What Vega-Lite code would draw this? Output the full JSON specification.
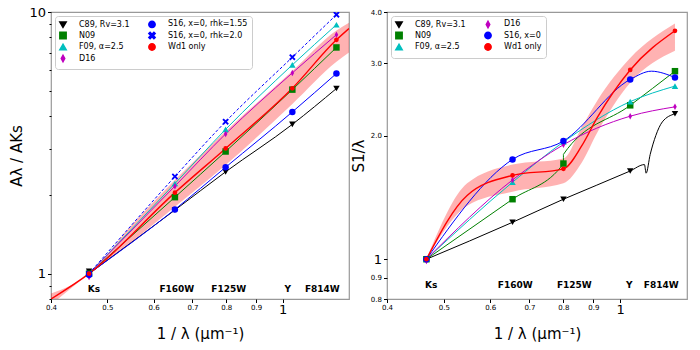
{
  "$schema": "https://vega.github.io/schema/vega-lite/v6.json",
  "padding": {"left": 9, "top": 5, "right": 5, "bottom": 5},
  "spacing": 0,
  "datasets": {
    "leftBand": [
      {"x": 0.4, "y": 0.76, "y2": 0.84},
      {"x": 0.465, "y": 1.0, "y2": 1.0},
      {"x": 0.55, "y": 1.32, "y2": 1.53},
      {"x": 0.653, "y": 1.80, "y2": 2.28},
      {"x": 0.798, "y": 2.6, "y2": 3.5},
      {"x": 1.039, "y": 4.45, "y2": 5.95},
      {"x": 1.237, "y": 6.45, "y2": 8.5},
      {"x": 1.3, "y": 7.0, "y2": 9.1}
    ],
    "leftPts": [
      {"model": "C89, Rv=3.1", "x": 0.465, "y": 1.02},
      {"model": "C89, Rv=3.1", "x": 0.653, "y": 1.75},
      {"model": "C89, Rv=3.1", "x": 0.798, "y": 2.45},
      {"model": "C89, Rv=3.1", "x": 1.039, "y": 3.72},
      {"model": "C89, Rv=3.1", "x": 1.237, "y": 5.10},
      {"model": "N09", "x": 0.465, "y": 1.0},
      {"model": "N09", "x": 0.653, "y": 1.96},
      {"model": "N09", "x": 0.798, "y": 2.93},
      {"model": "N09", "x": 1.039, "y": 5.05},
      {"model": "N09", "x": 1.237, "y": 7.32},
      {"model": "F09, α=2.5", "x": 0.465, "y": 1.0},
      {"model": "F09, α=2.5", "x": 0.653, "y": 2.21},
      {"model": "F09, α=2.5", "x": 0.798, "y": 3.56},
      {"model": "F09, α=2.5", "x": 1.039, "y": 6.28},
      {"model": "F09, α=2.5", "x": 1.237, "y": 8.94},
      {"model": "D16", "x": 0.465, "y": 0.97},
      {"model": "D16", "x": 0.653, "y": 2.16},
      {"model": "D16", "x": 0.798, "y": 3.42},
      {"model": "D16", "x": 1.039, "y": 5.85},
      {"model": "D16", "x": 1.237, "y": 8.19},
      {"model": "S16, x=0, rhk=1.55", "x": 0.465, "y": 0.99},
      {"model": "S16, x=0, rhk=1.55", "x": 0.653, "y": 1.76},
      {"model": "S16, x=0, rhk=1.55", "x": 0.798, "y": 2.55},
      {"model": "S16, x=0, rhk=1.55", "x": 1.039, "y": 4.15},
      {"model": "S16, x=0, rhk=1.55", "x": 1.237, "y": 5.82},
      {"model": "S16, x=0, rhk=2.0", "x": 0.465, "y": 1.0},
      {"model": "S16, x=0, rhk=2.0", "x": 0.653, "y": 2.35},
      {"model": "S16, x=0, rhk=2.0", "x": 0.798, "y": 3.81},
      {"model": "S16, x=0, rhk=2.0", "x": 1.039, "y": 6.72},
      {"model": "S16, x=0, rhk=2.0", "x": 1.237, "y": 9.77},
      {"model": "Wd1 only", "x": 0.465, "y": 1.0},
      {"model": "Wd1 only", "x": 0.653, "y": 2.04},
      {"model": "Wd1 only", "x": 0.798, "y": 3.01},
      {"model": "Wd1 only", "x": 1.039, "y": 5.11},
      {"model": "Wd1 only", "x": 1.237, "y": 7.83}
    ],
    "leftLine": [
      {"model": "C89, Rv=3.1", "o": 1, "x": 0.465, "y": 1.0},
      {"model": "C89, Rv=3.1", "o": 2, "x": 0.653, "y": 1.75},
      {"model": "C89, Rv=3.1", "o": 3, "x": 0.798, "y": 2.45},
      {"model": "C89, Rv=3.1", "o": 4, "x": 1.039, "y": 3.72},
      {"model": "C89, Rv=3.1", "o": 5, "x": 1.237, "y": 5.10},
      {"model": "N09", "o": 1, "x": 0.465, "y": 1.0},
      {"model": "N09", "o": 2, "x": 0.653, "y": 1.96},
      {"model": "N09", "o": 3, "x": 0.798, "y": 2.93},
      {"model": "N09", "o": 4, "x": 1.039, "y": 5.05},
      {"model": "N09", "o": 5, "x": 1.237, "y": 7.32},
      {"model": "F09, α=2.5", "o": 1, "x": 0.465, "y": 1.0},
      {"model": "F09, α=2.5", "o": 2, "x": 0.653, "y": 2.21},
      {"model": "F09, α=2.5", "o": 3, "x": 0.798, "y": 3.56},
      {"model": "F09, α=2.5", "o": 4, "x": 1.039, "y": 6.28},
      {"model": "F09, α=2.5", "o": 5, "x": 1.237, "y": 8.94},
      {"model": "D16", "o": 1, "x": 0.465, "y": 1.0},
      {"model": "D16", "o": 2, "x": 0.653, "y": 2.16},
      {"model": "D16", "o": 3, "x": 0.798, "y": 3.42},
      {"model": "D16", "o": 4, "x": 1.039, "y": 5.85},
      {"model": "D16", "o": 5, "x": 1.237, "y": 8.19},
      {"model": "S16, x=0, rhk=1.55", "o": 1, "x": 0.465, "y": 1.0},
      {"model": "S16, x=0, rhk=1.55", "o": 2, "x": 0.653, "y": 1.76},
      {"model": "S16, x=0, rhk=1.55", "o": 3, "x": 0.798, "y": 2.55},
      {"model": "S16, x=0, rhk=1.55", "o": 4, "x": 1.039, "y": 4.15},
      {"model": "S16, x=0, rhk=1.55", "o": 5, "x": 1.237, "y": 5.82},
      {"model": "S16, x=0, rhk=2.0", "o": 1, "x": 0.465, "y": 1.0},
      {"model": "S16, x=0, rhk=2.0", "o": 2, "x": 0.653, "y": 2.35},
      {"model": "S16, x=0, rhk=2.0", "o": 3, "x": 0.798, "y": 3.81},
      {"model": "S16, x=0, rhk=2.0", "o": 4, "x": 1.039, "y": 6.72},
      {"model": "S16, x=0, rhk=2.0", "o": 5, "x": 1.237, "y": 9.77},
      {"model": "Wd1 only", "o": 0, "x": 0.4, "y": 0.80},
      {"model": "Wd1 only", "o": 1, "x": 0.465, "y": 1.0},
      {"model": "Wd1 only", "o": 2, "x": 0.653, "y": 2.04},
      {"model": "Wd1 only", "o": 3, "x": 0.798, "y": 3.01},
      {"model": "Wd1 only", "o": 4, "x": 1.039, "y": 5.11},
      {"model": "Wd1 only", "o": 5, "x": 1.237, "y": 7.83},
      {"model": "Wd1 only", "o": 6, "x": 1.3, "y": 8.65}
    ],
    "leftLabels": [
      {"label": "Ks", "x": 0.474, "y": 0.87},
      {"label": "F160W", "x": 0.658, "y": 0.87},
      {"label": "F125W", "x": 0.808, "y": 0.87},
      {"label": "Y", "x": 1.02, "y": 0.87},
      {"label": "F814W", "x": 1.17, "y": 0.87}
    ],
    "rightBand": [
      {"x": 0.467, "y": 1.0, "y2": 1.0},
      {"x": 0.548, "y": 1.35, "y2": 1.53},
      {"x": 0.655, "y": 1.46, "y2": 1.70},
      {"x": 0.80, "y": 1.53, "y2": 1.76},
      {"x": 0.86, "y": 1.72, "y2": 2.10},
      {"x": 0.913, "y": 2.03, "y2": 2.43},
      {"x": 1.04, "y": 2.69, "y2": 3.09},
      {"x": 1.24, "y": 3.22, "y2": 3.75}
    ],
    "rightPts": [
      {"model": "C89, Rv=3.1", "x": 0.467, "y": 1.0},
      {"model": "C89, Rv=3.1", "x": 0.655, "y": 1.23},
      {"model": "C89, Rv=3.1", "x": 0.80, "y": 1.40},
      {"model": "C89, Rv=3.1", "x": 1.04, "y": 1.64},
      {"model": "C89, Rv=3.1", "x": 1.24, "y": 2.26},
      {"model": "N09", "x": 0.467, "y": 1.0},
      {"model": "N09", "x": 0.655, "y": 1.40},
      {"model": "N09", "x": 0.80, "y": 1.71},
      {"model": "N09", "x": 1.04, "y": 2.37},
      {"model": "N09", "x": 1.24, "y": 2.87},
      {"model": "F09, α=2.5", "x": 0.467, "y": 1.0},
      {"model": "F09, α=2.5", "x": 0.655, "y": 1.54},
      {"model": "F09, α=2.5", "x": 0.80, "y": 1.93},
      {"model": "F09, α=2.5", "x": 1.04, "y": 2.42},
      {"model": "F09, α=2.5", "x": 1.24, "y": 2.64},
      {"model": "D16", "x": 0.467, "y": 0.99},
      {"model": "D16", "x": 0.655, "y": 1.56},
      {"model": "D16", "x": 0.80, "y": 1.90},
      {"model": "D16", "x": 1.04, "y": 2.23},
      {"model": "D16", "x": 1.24, "y": 2.35},
      {"model": "S16, x=0", "x": 0.467, "y": 1.0},
      {"model": "S16, x=0", "x": 0.655, "y": 1.75},
      {"model": "S16, x=0", "x": 0.80, "y": 1.94},
      {"model": "S16, x=0", "x": 1.04, "y": 2.74},
      {"model": "S16, x=0", "x": 1.24, "y": 2.77},
      {"model": "Wd1 only", "x": 0.467, "y": 1.0},
      {"model": "Wd1 only", "x": 0.655, "y": 1.60},
      {"model": "Wd1 only", "x": 0.80, "y": 1.66},
      {"model": "Wd1 only", "x": 1.04, "y": 2.89},
      {"model": "Wd1 only", "x": 1.24, "y": 3.60}
    ],
    "rightLine": [
      {"model": "C89, Rv=3.1", "o": 1, "x": 0.467, "y": 1.0},
      {"model": "C89, Rv=3.1", "o": 2, "x": 0.655, "y": 1.23},
      {"model": "C89, Rv=3.1", "o": 3, "x": 0.80, "y": 1.40},
      {"model": "C89, Rv=3.1", "o": 4, "x": 1.04, "y": 1.64},
      {"model": "C89, Rv=3.1", "o": 5, "x": 1.10, "y": 1.70},
      {"model": "C89, Rv=3.1", "o": 6, "x": 1.107, "y": 1.62},
      {"model": "C89, Rv=3.1", "o": 7, "x": 1.125, "y": 1.80},
      {"model": "C89, Rv=3.1", "o": 8, "x": 1.15, "y": 2.0},
      {"model": "C89, Rv=3.1", "o": 9, "x": 1.18, "y": 2.16},
      {"model": "C89, Rv=3.1", "o": 10, "x": 1.24, "y": 2.26},
      {"model": "N09", "o": 1, "x": 0.467, "y": 1.0},
      {"model": "N09", "o": 2, "x": 0.655, "y": 1.40},
      {"model": "N09", "o": 3, "x": 0.80, "y": 1.71},
      {"model": "N09", "o": 4, "x": 0.80, "y": 1.80},
      {"model": "N09", "o": 5, "x": 1.04, "y": 2.37},
      {"model": "N09", "o": 6, "x": 1.24, "y": 2.87},
      {"model": "F09, α=2.5", "o": 1, "x": 0.467, "y": 1.0},
      {"model": "F09, α=2.5", "o": 2, "x": 0.655, "y": 1.54},
      {"model": "F09, α=2.5", "o": 3, "x": 0.80, "y": 1.93},
      {"model": "F09, α=2.5", "o": 4, "x": 1.04, "y": 2.42},
      {"model": "F09, α=2.5", "o": 5, "x": 1.24, "y": 2.64},
      {"model": "D16", "o": 1, "x": 0.467, "y": 1.0},
      {"model": "D16", "o": 2, "x": 0.655, "y": 1.56},
      {"model": "D16", "o": 3, "x": 0.80, "y": 1.90},
      {"model": "D16", "o": 4, "x": 1.04, "y": 2.23},
      {"model": "D16", "o": 5, "x": 1.24, "y": 2.35},
      {"model": "S16, x=0", "o": 1, "x": 0.467, "y": 1.0},
      {"model": "S16, x=0", "o": 2, "x": 0.655, "y": 1.75},
      {"model": "S16, x=0", "o": 3, "x": 0.80, "y": 1.94},
      {"model": "S16, x=0", "o": 4, "x": 1.04, "y": 2.74},
      {"model": "S16, x=0", "o": 5, "x": 1.13, "y": 2.87},
      {"model": "S16, x=0", "o": 6, "x": 1.24, "y": 2.77},
      {"model": "Wd1 only", "o": 1, "x": 0.467, "y": 1.0},
      {"model": "Wd1 only", "o": 2, "x": 0.548, "y": 1.43},
      {"model": "Wd1 only", "o": 3, "x": 0.655, "y": 1.60},
      {"model": "Wd1 only", "o": 4, "x": 0.80, "y": 1.66},
      {"model": "Wd1 only", "o": 5, "x": 0.86, "y": 1.89},
      {"model": "Wd1 only", "o": 6, "x": 0.913, "y": 2.21},
      {"model": "Wd1 only", "o": 7, "x": 1.04, "y": 2.89},
      {"model": "Wd1 only", "o": 8, "x": 1.24, "y": 3.60}
    ],
    "rightLabels": [
      {"label": "Ks", "x": 0.476, "y": 0.866},
      {"label": "F160W", "x": 0.662, "y": 0.866},
      {"label": "F125W", "x": 0.835, "y": 0.866},
      {"label": "Y", "x": 1.036, "y": 0.866},
      {"label": "F814W", "x": 1.175, "y": 0.866}
    ]
  },
  "resolve": {"scale": {"color": "independent", "shape": "independent"}, "legend": {"color": "independent", "shape": "independent"}},
  "hconcat": [
    {
      "width": 298,
      "height": 287,
      "encoding": {
        "x": {"field": "x", "type": "quantitative", "scale": {"type": "log", "domain": [0.4, 1.3], "nice": false},
          "axis": {"title": "1 / λ (μm⁻¹)", "titleFontSize": 15, "values": [0.4, 0.5, 0.6, 0.7, 0.8, 0.9, 1], "labelExpr": "datum.value == 1 ? '1' : format(datum.value, '.1f')", "labelFontSize": {"condition": {"test": "datum.value == 1", "value": 13}, "value": 7}, "tickSize": 3.5, "labelPadding": 1, "labelOverlap": false, "labelFlush": false, "titlePadding": 10}},
        "y": {"field": "y", "type": "quantitative", "scale": {"type": "log", "domain": [0.8, 10], "nice": false},
          "axis": {"title": "Aλ / AKs", "titleFontSize": 15, "values": [0.8, 0.9, 1, 2, 3, 4, 5, 6, 7, 8, 9, 10], "labelExpr": "datum.value == 1 ? '1' : datum.value == 10 ? '10' : ''", "labelFontSize": 13, "tickSize": {"condition": {"test": "datum.value == 1 || datum.value == 10", "value": 3.5}, "value": 2}, "labelPadding": 2, "labelOverlap": false, "labelFlush": false, "titlePadding": 4}}
      },
      "layer": [
        {"data": {"name": "leftBand"}, "mark": {"type": "area", "color": "#ff0000", "opacity": 0.3, "interpolate": "monotone", "clip": true}, "encoding": {"y2": {"field": "y2"}}},
        {"data": {"name": "leftLine"}, "transform": [{"filter": "datum.model !== 'S16, x=0, rhk=2.0'"}],
          "mark": {"type": "line", "interpolate": "monotone", "clip": true},
          "encoding": {
            "color": {"field": "model", "type": "nominal", "scale": {"domain": ["C89, Rv=3.1", "N09", "F09, α=2.5", "D16", "S16, x=0, rhk=1.55", "S16, x=0, rhk=2.0", "Wd1 only"], "range": ["#000000", "#008000", "#00bfbf", "#bf00bf", "#0000ff", "#0000ff", "#ff0000"]}},
            "order": {"field": "o"},
            "strokeWidth": {"condition": {"test": "datum.model === 'Wd1 only'", "value": 1.4}, "value": 1}
          }},
        {"data": {"name": "leftLine"}, "transform": [{"filter": "datum.model === 'S16, x=0, rhk=2.0'"}],
          "mark": {"type": "line", "interpolate": "monotone", "clip": true, "strokeDash": [3, 2], "strokeWidth": 1},
          "encoding": {
            "color": {"field": "model", "type": "nominal"},
            "order": {"field": "o"}
          }},
        {"data": {"name": "leftPts"}, "mark": {"type": "point", "filled": true, "opacity": 1, "clip": true},
          "encoding": {
            "color": {"field": "model", "type": "nominal", "legend": {"orient": "top-left", "columns": 2, "title": null, "labelFontSize": 8, "labelFont": "DejaVu Sans", "rowPadding": -2.5, "columnPadding": 15, "padding": 4, "symbolSize": 40, "strokeColor": "#cccccc", "fillColor": "#ffffff", "cornerRadius": 3, "offset": 4, "labelOffset": 12}},
            "shape": {"field": "model", "type": "nominal", "scale": {"domain": ["C89, Rv=3.1", "N09", "F09, α=2.5", "D16", "S16, x=0, rhk=1.55", "S16, x=0, rhk=2.0", "Wd1 only"], "range": ["triangle-down", "square", "triangle-up", "M0,-1L0.55,0L0,1L-0.55,0Z", "circle", "M-1,-0.6L-0.6,-1L0,-0.4L0.6,-1L1,-0.6L0.4,0L1,0.6L0.6,1L0,0.4L-0.6,1L-1,0.6L-0.4,0Z", "circle"]}, "legend": {"orient": "top-left", "columns": 2, "title": null, "labelFontSize": 8, "labelFont": "DejaVu Sans", "rowPadding": -2.5, "columnPadding": 15, "padding": 4, "symbolSize": 40, "strokeColor": "#cccccc", "fillColor": "#ffffff", "cornerRadius": 3, "offset": 4, "labelOffset": 12}},
            "size": {"condition": {"test": "datum.model === 'Wd1 only'", "value": 22}, "value": 42}
          }},
        {"data": {"name": "leftLabels"}, "mark": {"type": "text", "fontWeight": "bold", "fontSize": 9, "font": "DejaVu Sans", "color": "#000000"},
          "encoding": {"text": {"field": "label"}}}
      ]
    },
    {
      "width": 300,
      "height": 287,
      "encoding": {
        "x": {"field": "x", "type": "quantitative", "scale": {"type": "log", "domain": [0.4, 1.3], "nice": false},
          "axis": {"title": "1 / λ (μm⁻¹)", "titleFontSize": 15, "values": [0.4, 0.5, 0.6, 0.7, 0.8, 0.9, 1], "labelExpr": "datum.value == 1 ? '1' : format(datum.value, '.1f')", "labelFontSize": {"condition": {"test": "datum.value == 1", "value": 13}, "value": 7}, "tickSize": 3.5, "labelPadding": 1, "labelOverlap": false, "labelFlush": false, "titlePadding": 10}},
        "y": {"field": "y", "type": "quantitative", "scale": {"type": "log", "domain": [0.8, 4.0], "nice": false},
          "axis": {"title": "S1/λ", "titleFontSize": 15, "values": [0.8, 0.9, 1, 2, 3, 4], "labelExpr": "datum.value == 1 ? '1' : format(datum.value, '.1f')", "labelFontSize": {"condition": {"test": "datum.value == 1", "value": 13}, "value": 7}, "tickSize": 3.5, "labelPadding": 2, "labelOverlap": false, "labelFlush": false, "titlePadding": 4}}
      },
      "layer": [
        {"data": {"name": "rightBand"}, "mark": {"type": "area", "color": "#ff0000", "opacity": 0.3, "interpolate": "monotone", "clip": true}, "encoding": {"y2": {"field": "y2"}}},
        {"data": {"name": "rightLine"},
          "mark": {"type": "line", "interpolate": "monotone", "clip": true},
          "encoding": {
            "color": {"field": "model", "type": "nominal", "scale": {"domain": ["C89, Rv=3.1", "N09", "F09, α=2.5", "D16", "S16, x=0", "Wd1 only"], "range": ["#000000", "#008000", "#00bfbf", "#bf00bf", "#0000ff", "#ff0000"]}},
            "order": {"field": "o"},
            "strokeWidth": {"condition": {"test": "datum.model === 'Wd1 only'", "value": 1.4}, "value": 1}
          }},
        {"data": {"name": "rightPts"}, "mark": {"type": "point", "filled": true, "opacity": 1, "clip": true},
          "encoding": {
            "color": {"field": "model", "type": "nominal", "legend": {"orient": "top-left", "columns": 2, "title": null, "labelFontSize": 8, "labelFont": "DejaVu Sans", "rowPadding": -2.5, "columnPadding": 15, "padding": 4, "symbolSize": 40, "strokeColor": "#cccccc", "fillColor": "#ffffff", "cornerRadius": 3, "offset": 4, "labelOffset": 12}},
            "shape": {"field": "model", "type": "nominal", "scale": {"domain": ["C89, Rv=3.1", "N09", "F09, α=2.5", "D16", "S16, x=0", "Wd1 only"], "range": ["triangle-down", "square", "triangle-up", "M0,-1L0.55,0L0,1L-0.55,0Z", "circle", "circle"]}, "legend": {"orient": "top-left", "columns": 2, "title": null, "labelFontSize": 8, "labelFont": "DejaVu Sans", "rowPadding": -2.5, "columnPadding": 15, "padding": 4, "symbolSize": 40, "strokeColor": "#cccccc", "fillColor": "#ffffff", "cornerRadius": 3, "offset": 4, "labelOffset": 12}},
            "size": {"condition": {"test": "datum.model === 'Wd1 only'", "value": 22}, "value": 42}
          }},
        {"data": {"name": "rightLabels"}, "mark": {"type": "text", "fontWeight": "bold", "fontSize": 9, "font": "DejaVu Sans", "color": "#000000"},
          "encoding": {"text": {"field": "label"}}}
      ]
    }
  ],
  "config": {
    "font": "DejaVu Sans",
    "view": {"stroke": "#999999", "strokeWidth": 1.2},
    "axis": {"domain": false, "grid": false, "tickColor": "#000000", "labelColor": "#000000", "titleColor": "#000000", "titleFontWeight": "normal", "labelFont": "DejaVu Sans", "titleFont": "DejaVu Sans"}
  }
}
